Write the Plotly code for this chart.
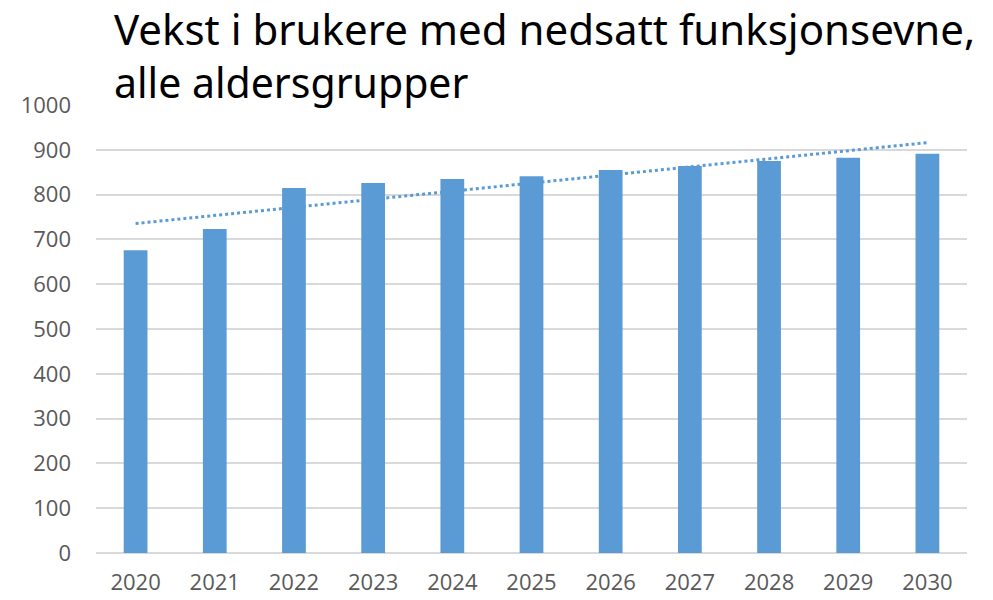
import numpy as np
import plotly.graph_objects as go

years = ["2020", "2021", "2022", "2023", "2024", "2025", "2026", "2027", "2028", "2029", "2030"]
users = [676, 723, 815, 826, 835, 841, 855, 864, 875, 882, 891]
title_lines = ["Vekst i brukere med nedsatt funksjonsevne,", "alle aldersgrupper"]
y_ticks = [0, 100, 200, 300, 400, 500, 600, 700, 800, 900, 1000]

# Linear trend line (as in the original spreadsheet chart), fitted to the data
idx = np.arange(len(users))
slope, intercept = np.polyfit(idx, users, 1)
trend = slope * idx + intercept

blue = "#5B9BD5"
W, H = 993, 600
ML, MR, MT, MB = 96, 26, 105, 47

fig = go.Figure()
fig.add_trace(go.Bar(x=years, y=users, marker=dict(color=blue, line=dict(width=0)),
                     width=0.30, showlegend=False))
fig.add_trace(go.Scatter(x=years, y=trend, mode="lines",
                         line=dict(color=blue, width=3, dash="dot"), showlegend=False))

title_text = ('<span style="font-size:42px">' + title_lines[0] + '</span><br>'
              + title_lines[1])
fig.add_annotation(
    text=title_text, showarrow=False, align="left",
    xref="paper", yref="paper", x=(113 - ML) / (W - ML - MR), y=1,
    xanchor="left", yanchor="bottom", yshift=-6, borderpad=0,
    font=dict(family="Noto Sans", size=41, color="#000000"),
)

fig.update_layout(
    width=W, height=H,
    paper_bgcolor="white", plot_bgcolor="white",
    margin=dict(l=ML, r=MR, t=MT, b=MB, autoexpand=False),
    xaxis=dict(type="category", showgrid=False, showline=False, ticks="",
               ticklabelstandoff=14,
               tickfont=dict(family="Open Sans", size=22, color="#595959")),
    yaxis=dict(range=[0, 1000], tickvals=y_ticks, showgrid=True, gridcolor="#D9D9D9",
               gridwidth=2, zeroline=True, zerolinecolor="#D9D9D9", zerolinewidth=2,
               ticks="", ticklabelstandoff=24,
               tickfont=dict(family="Open Sans", size=22, color="#595959")),
    bargap=0.70,
)

fig.write_html("out.html", config={"displayModeBar": False},
               post_script="document.body.style.margin='0';")
